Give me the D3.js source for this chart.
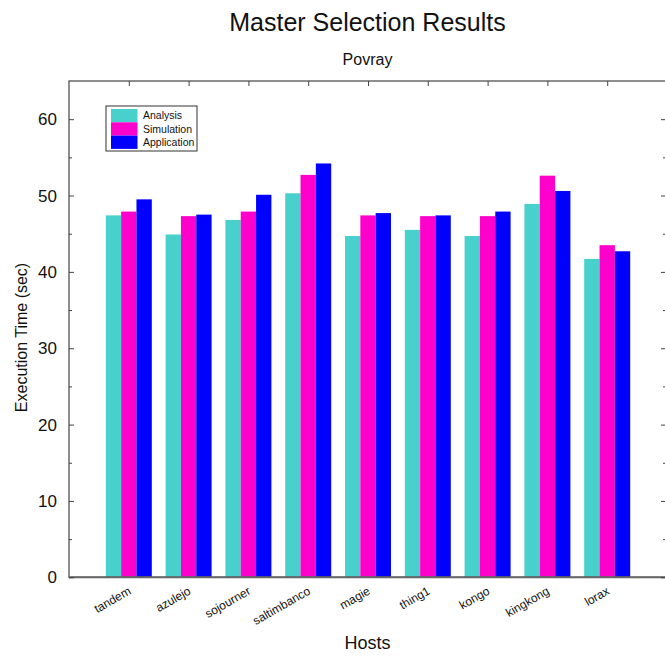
<!DOCTYPE html>
<html>
<head>
<meta charset="utf-8">
<script src="https://cdn.jsdelivr.net/npm/d3@7"></script>
<style>
  html, body { margin: 0; padding: 0; background: #fff; }
  svg { display: block; font-family: "Liberation Sans", Arial, Helvetica, sans-serif; }
</style>
</head>
<body>
<svg id="chart" width="665" height="656"></svg>
<script>
// Hosts on the x axis
const hosts = ["tandem", "azulejo", "sojourner", "saltimbanco", "magie", "thing1", "kongo", "kingkong", "lorax"];
// Execution times (seconds) per selection strategy
const analysis    = [47.4, 44.9, 46.8, 50.3, 44.7, 45.5, 44.7, 48.9, 41.7];
const simulation  = [47.9, 47.3, 47.9, 52.7, 47.4, 47.3, 47.3, 52.6, 43.5];
const application = [49.5, 47.5, 50.1, 54.2, 47.7, 47.4, 47.9, 50.6, 42.7];
const seriesNames = ["Analysis", "Simulation", "Application"];
const seriesColors = ["#48d1cc", "#ff00cc", "#0000ff"];
const yTicks = [0, 10, 20, 30, 40, 50, 60];

const series = [analysis, simulation, application];

const svg = d3.select("#chart");
const plotL = 69, plotR = 667, plotT = 81, plotB = 577.3;
const midX = 367.5;

const x = d3.scaleLinear().domain([0, hosts.length + 1]).range([plotL, plotR]);
const y = d3.scaleLinear().domain([0, 65]).range([plotB, plotT]);
const barW = 0.2564; // in x-domain units

// Bars
series.forEach((vals, s) => {
  svg.append("g")
    .selectAll("rect")
    .data(vals)
    .join("rect")
    .attr("x", (d, i) => x(i + 1 + (s - 1.5) * barW))
    .attr("width", x(barW) - x(0))
    .attr("y", d => y(d))
    .attr("height", d => y(0) - y(d))
    .attr("fill", seriesColors[s]);
});

// Frame
const frameColor = "#444";
svg.append("rect")
  .attr("x", plotL).attr("y", plotT)
  .attr("width", plotR - plotL).attr("height", plotB - plotT)
  .attr("fill", "none").attr("stroke", frameColor).attr("stroke-width", 1.2);
svg.append("line")
  .attr("x1", plotL).attr("x2", plotR).attr("y1", plotB).attr("y2", plotB)
  .attr("stroke", "#666").attr("stroke-width", 2);

// Left axis (major ticks labelled, minor ticks between)
const minor = d3.range(5, 65, 10);
svg.append("g").attr("transform", `translate(${plotL},0)`)
  .call(d3.axisRight(y).tickValues(yTicks).tickSize(5).tickFormat(""))
  .call(g => g.select(".domain").remove())
  .call(g => g.selectAll("line").attr("stroke", frameColor));
svg.append("g").attr("transform", `translate(${plotL},0)`)
  .call(d3.axisRight(y).tickValues(minor).tickSize(3).tickFormat(""))
  .call(g => g.select(".domain").remove())
  .call(g => g.selectAll("line").attr("stroke", frameColor));
svg.append("g")
  .selectAll("text")
  .data(yTicks)
  .join("text")
  .attr("x", 57)
  .attr("y", d => y(d))
  .attr("dy", "0.36em")
  .attr("text-anchor", "end")
  .attr("font-size", 17)
  .attr("fill", "#111")
  .text(d => d);

// Right axis ticks
svg.append("g").attr("transform", `translate(${plotR - 1},0)`)
  .call(d3.axisLeft(y).tickValues(yTicks).tickSize(5).tickFormat(""))
  .call(g => g.select(".domain").remove())
  .call(g => g.selectAll("line").attr("stroke", frameColor));
svg.append("g").attr("transform", `translate(${plotR - 1},0)`)
  .call(d3.axisLeft(y).tickValues(minor).tickSize(3).tickFormat(""))
  .call(g => g.select(".domain").remove())
  .call(g => g.selectAll("line").attr("stroke", frameColor));

// Top axis ticks at each host position
svg.append("g").attr("transform", `translate(0,${plotT})`)
  .call(d3.axisBottom(x).tickValues(d3.range(1, hosts.length + 1)).tickSize(5).tickFormat(""))
  .call(g => g.select(".domain").remove())
  .call(g => g.selectAll("line").attr("stroke", frameColor));

// Host labels, rotated
svg.append("g")
  .selectAll("text")
  .data(hosts)
  .join("text")
  .attr("transform", (d, i) => `translate(${x(i + 1) + 3},${plotB + 16}) rotate(-30)`)
  .attr("text-anchor", "end")
  .attr("font-size", 12)
  .attr("fill", "#111")
  .text(d => d);

// Titles
svg.append("text")
  .attr("x", midX).attr("y", 31)
  .attr("text-anchor", "middle").attr("font-size", 25).attr("fill", "#111")
  .text("Master Selection Results");
svg.append("text")
  .attr("x", midX).attr("y", 65)
  .attr("text-anchor", "middle").attr("font-size", 16).attr("fill", "#111")
  .text("Povray");
svg.append("text")
  .attr("x", midX).attr("y", 649)
  .attr("text-anchor", "middle").attr("font-size", 18).attr("fill", "#111")
  .text("Hosts");
svg.append("text")
  .attr("transform", `translate(27,337.5) rotate(-90)`)
  .attr("text-anchor", "middle").attr("font-size", 16).attr("fill", "#111")
  .text("Execution Time (sec)");

// Legend
const lg = svg.append("g").attr("transform", "translate(106,106)");
lg.append("rect").attr("width", 91).attr("height", 45)
  .attr("fill", "#fff").attr("stroke", "#333").attr("stroke-width", 1);
seriesNames.forEach((name, s) => {
  lg.append("rect")
    .attr("x", 5).attr("y", 3 + s * 13.3)
    .attr("width", 26.5).attr("height", 13.3)
    .attr("fill", seriesColors[s]);
  lg.append("text")
    .attr("x", 37).attr("y", 3 + s * 13.3 + 6.65)
    .attr("dy", "0.35em")
    .attr("font-size", 10.5).attr("fill", "#111")
    .text(name);
});
</script>
</body>
</html>
